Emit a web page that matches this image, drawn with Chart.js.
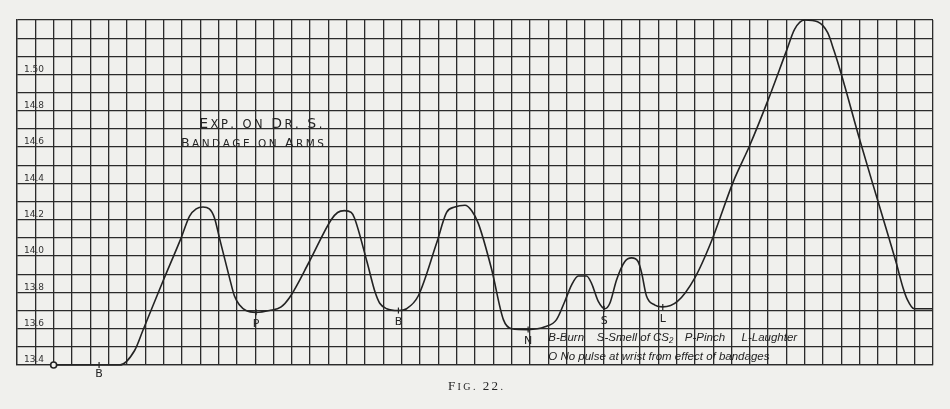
<!DOCTYPE html>
<html>
<head>
<meta charset="utf-8">
<script src="https://cdn.jsdelivr.net/npm/chart.js@4.4.1/dist/chart.umd.min.js"></script>
<style>
    html, body { margin: 0; padding: 0; background: #f0f0ed; }
    #wrap { width: 950px; height: 409px; }
</style>
</head>
<body>
<div id="wrap"><canvas id="pulseChart"></canvas></div>
<script>
// Pulse tracing, x = grid column, y = chart units
const curveX = [2.0, 5.6, 6.42, 6.87, 7.96, 8.96, 9.42, 9.78, 10.15, 10.5, 10.78, 11.05, 11.6, 11.87, 12.15, 12.5,
    13.05, 13.78, 14.42, 14.87, 15.96, 17.15, 17.5, 17.87, 18.24, 18.42, 19.1, 19.55, 19.8, 20.18, 20.82, 21.27,
    21.9, 22.9, 23.45, 23.9, 24.45, 24.82, 25.18, 25.9, 26.55, 27.0, 27.9, 28.82, 29.45, 29.9, 30.27, 30.64,
    31.09, 31.36, 31.73, 32.09, 32.36, 32.73, 33.18, 33.55, 33.9, 34.09, 34.36, 34.82, 35.25, 36.05, 37.0, 37.9,
    39.1, 40.0, 41.0, 42.0, 42.45, 43.0, 43.7, 44.25, 44.6, 45.0, 46.0, 47.0, 48.0, 48.35, 48.6, 48.97, 50.0];
const curveY = [13.4, 13.4, 13.48, 13.59, 13.86, 14.1, 14.22, 14.26, 14.27, 14.26, 14.21, 14.1, 13.88, 13.78, 13.73, 13.7,
    13.69, 13.7, 13.72, 13.77, 13.97, 14.2, 14.24, 14.25, 14.24, 14.21, 13.97, 13.8, 13.74, 13.71, 13.7, 13.71,
    13.78, 14.07, 14.24, 14.27, 14.28, 14.25, 14.18, 13.93, 13.65, 13.6, 13.595, 13.61, 13.65, 13.75, 13.84, 13.89,
    13.89, 13.85, 13.75, 13.71, 13.74, 13.87, 13.97, 13.99, 13.97, 13.91, 13.78, 13.73, 13.72, 13.75, 13.88, 14.08,
    14.41, 14.61, 14.86, 15.13, 15.25, 15.3, 15.29, 15.23, 15.13, 15.0, 14.64, 14.3, 13.96, 13.83, 13.76, 13.71, 13.71];

// labelled rulings on the left
const yTickValues = [13.4, 13.6, 13.8, 14.0, 14.2, 14.4, 14.6, 14.8, 15.0];
const yTickLabels = ['13.4', '13.6', '13.8', '14.0', '14.2', '14.4', '14.6', '14.8', '1.50'];

// event marks along the tracing
const markerText = ['B', 'P', 'B', 'N', 'S', 'L'];
const markerX = [4.48, 13.05, 20.82, 27.9, 32.05, 35.25];
const markerY = [13.4, 13.69, 13.7, 13.595, 13.71, 13.72];

// "O" = no pulse at wrist
const noPulseX = [2.0];
const noPulseY = [13.4];

const titleLines = ['Exp. on Dr. S.', 'Bandage on Arms'];
const keyItems = ['B-Burn', 'S-Smell of CS\u2082', 'P-Pinch', 'L-Laughter'];
const keyNote = 'O No pulse at wrist from effect of bandages';
const caption = 'Fig. 22.';

const INK = '#232323';
const GRID = '#2b2b2b';
const PAPER = '#f0f0ed';

// upper case letters big, lower case as small capitals, stretched to a width
function drawSmallCaps(ctx, text, x, y, bigSize, smallSize, family, width) {
    const parts = [];
    let natural = 0;
    for (const ch of text) {
        const big = ch !== ch.toLowerCase() || /[0-9]/.test(ch);
        const font = (big ? bigSize : smallSize) + 'px ' + family;
        ctx.font = font;
        const c = ch.toUpperCase();
        const w = ctx.measureText(c).width;
        parts.push({ c, font, w });
        natural += w;
    }
    const gap = width ? (width - natural) / (parts.length - 1) : 1;
    let cx = x;
    parts.forEach(p => {
        ctx.font = p.font;
        ctx.fillText(p.c, cx, y);
        cx += p.w + gap;
    });
}

const annotations = {
    id: 'annotations',
    afterDatasetsDraw(chart) {
        const { ctx } = chart;
        const xs = chart.scales.x;
        const ys = chart.scales.y;
        ctx.save();
        ctx.fillStyle = INK;
        ctx.strokeStyle = INK;

        // no-pulse circle
        noPulseX.forEach((v, i) => {
            ctx.beginPath();
            ctx.arc(xs.getPixelForValue(v), ys.getPixelForValue(noPulseY[i]), 3, 0, Math.PI * 2);
            ctx.fillStyle = PAPER;
            ctx.fill();
            ctx.lineWidth = 1.6;
            ctx.stroke();
        });

        // event ticks and letters
        ctx.fillStyle = INK;
        ctx.font = '11px "DejaVu Sans"';
        ctx.textAlign = 'center';
        ctx.textBaseline = 'middle';
        ctx.lineWidth = 1.2;
        markerText.forEach((t, i) => {
            const px = xs.getPixelForValue(markerX[i]);
            const py = ys.getPixelForValue(markerY[i]);
            ctx.beginPath();
            ctx.moveTo(px, py - 3);
            ctx.lineTo(px, py + 3);
            ctx.stroke();
            ctx.fillText(t, px, py + (i === 0 ? 9 : 12));
        });

        // title
        ctx.textAlign = 'left';
        ctx.textBaseline = 'alphabetic';
        drawSmallCaps(ctx, titleLines[0], xs.getPixelForValue(9.95), 128, 14, 11.5, '"DejaVu Sans"', 123);
        drawSmallCaps(ctx, titleLines[1], xs.getPixelForValue(8.95), 147, 12.5, 10.5, '"DejaVu Sans"', 143);

        // key
        ctx.font = 'italic 11.5px "Liberation Sans"';
        ctx.textBaseline = 'middle';
        const keyCols = [29.0, 31.65, 36.45, 39.55];
        keyItems.forEach((t, i) => ctx.fillText(t, xs.getPixelForValue(keyCols[i]), 338));
        ctx.fillText(keyNote, xs.getPixelForValue(29.0), 357, 233);

        // figure caption
        ctx.textBaseline = 'alphabetic';
        drawSmallCaps(ctx, caption, 448, 390, 13, 10, '"Liberation Serif"', 55);
        ctx.restore();
    }
};

document.addEventListener('DOMContentLoaded', () => {
    const ctx = document.getElementById('pulseChart').getContext('2d');
    new Chart(ctx, {
        type: 'line',
        data: {
            datasets: [{
                data: curveX.map((x, i) => ({ x, y: curveY[i] })),
                borderColor: INK,
                borderWidth: 1.6,
                pointRadius: 0,
                cubicInterpolationMode: 'monotone',
                fill: false,
                clip: false
            }]
        },
        options: {
            responsive: true,
            maintainAspectRatio: false,
            animation: false,
            layout: { padding: { left: 17, right: 17, top: 20, bottom: 44 } },
            plugins: { legend: { display: false }, tooltip: { enabled: false } },
            scales: {
                x: {
                    type: 'linear',
                    min: 0,
                    max: 50,
                    afterBuildTicks: scale => {
                        scale.ticks = [];
                        for (let i = 0; i <= 50; i++) scale.ticks.push({ value: i });
                    },
                    afterFit: scale => { scale.height = 0; },
                    ticks: { display: false },
                    grid: { color: GRID, lineWidth: 1.3, drawTicks: false },
                    border: { color: GRID, width: 1.3 }
                },
                y: {
                    min: 13.4,
                    max: 15.3,
                    afterBuildTicks: scale => {
                        scale.ticks = [];
                        for (let i = 134; i <= 153; i++) scale.ticks.push({ value: i / 10 });
                    },
                    afterFit: scale => { scale.width = 0; },
                    ticks: {
                        mirror: true,
                        padding: 7,
                        labelOffset: -5,
                        color: '#333',
                        font: { family: 'DejaVu Sans', size: 9 },
                        callback: value => {
                            const i = yTickValues.findIndex(v => Math.abs(v - value) < 1e-6);
                            return i >= 0 ? yTickLabels[i] : '';
                        }
                    },
                    grid: { color: GRID, lineWidth: 1.3, drawTicks: false },
                    border: { color: GRID, width: 1.3 }
                }
            }
        },
        plugins: [annotations]
    });
});
</script>
</body>
</html>
